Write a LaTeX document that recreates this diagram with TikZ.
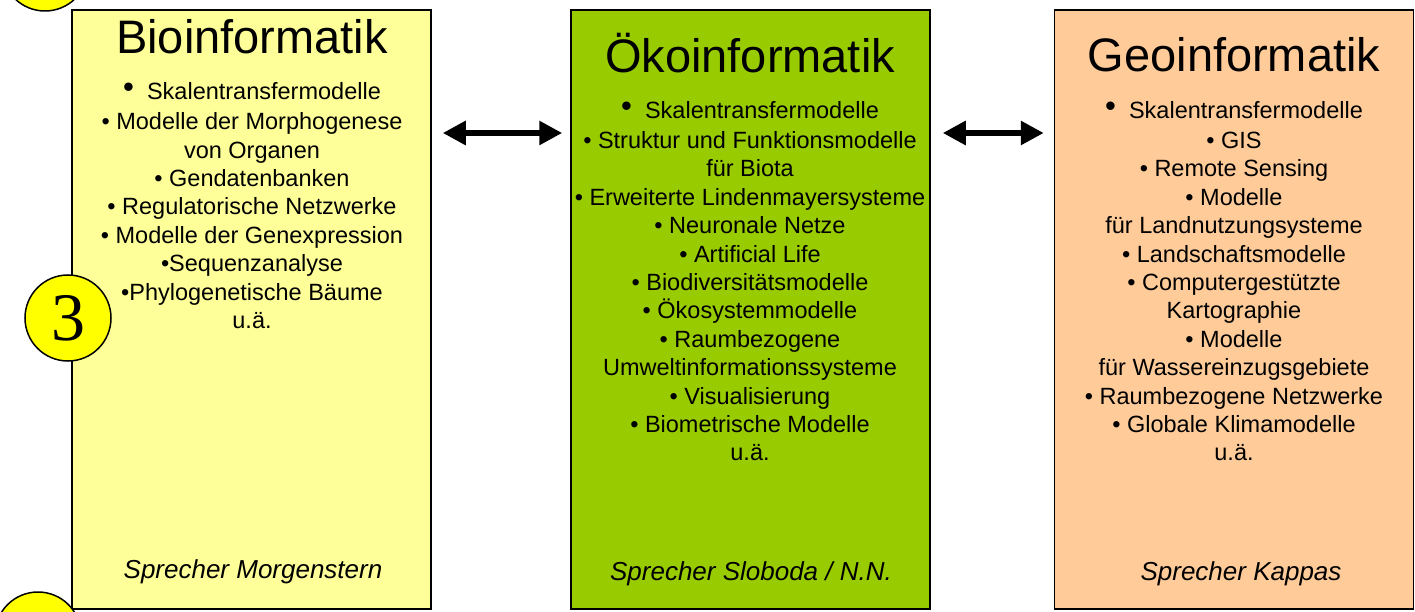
\documentclass[tikz,border=0pt]{standalone}
\usepackage{fontspec}
\setmainfont{Liberation Sans}
\newfontfamily\ziffer{Liberation Serif}
\usetikzlibrary{arrows.meta}
\definecolor{biogelb}{HTML}{FFFF99}
\definecolor{oekogruen}{HTML}{99CC00}
\definecolor{geoorange}{HTML}{FFCC99}
\definecolor{kreisgelb}{HTML}{FFFF00}
\def\bul{•\ }
\def\Bul{\raisebox{1.5pt}{\fontsize{31}{31}\selectfont•}\ \ }

\begin{document}
\begin{tikzpicture}[x=1pt,y=-1pt,
				feld/.style={rectangle,draw,line width=1.5pt,minimum width=359pt,minimum height=599pt},
				titel/.style={anchor=base,font=\fontsize{47}{47}\selectfont},
				liste/.style={anchor=north,align=center,font=\fontsize{23.5}{28.4}\selectfont},
				sprecher/.style={anchor=base,font=\fontsize{26}{26}\selectfont\itshape},
				nummer/.style={circle,draw,fill=kreisgelb,line width=1.5pt,minimum size=86pt,font=\ziffer\fontsize{68}{68}\selectfont},
				link/.style={{Triangle[length=23pt,width=23pt]}-{Triangle[length=23pt,width=23pt]},line width=6.5pt},
				inner sep=0pt]
				\clip (0,0) rectangle (1415,612);
				\fill [white] (0,0) rectangle (1415,612);
				\node [feld,fill=biogelb]		(bio)		at (251.5,309.5)	{};
					\node [titel] (bioTitel) at (252,54) {Bioinformatik};
					\node [liste] (bioListe) at (252,82) {\Bul Skalentransfermodelle\\[2pt]
						\bul Modelle der Morphogenese\\ von Organen\\ \bul Gendatenbanken\\
						\bul Regulatorische Netzwerke\\ \bul Modelle der Genexpression\\
						•Sequenzanalyse\\ •Phylogenetische Bäume\\ u.ä.};
					\node [sprecher] (bioSprecher) at (253,578) {Sprecher Morgenstern};
				\node [feld,fill=oekogruen]		(oeko)		at (750.5,309.5)	{};
					\node [titel] (oekoTitel) at (750,73) {Ökoinformatik};
					\node [liste] (oekoListe) at (750,101) {\Bul Skalentransfermodelle\\[1.8pt]
						\bul Struktur und Funktionsmodelle\\ für Biota\\
						\bul Erweiterte Lindenmayersysteme\\ \bul Neuronale Netze\\
						\bul Artificial Life\\ \bul Biodiversitätsmodelle\\ \bul Ökosystemmodelle\\
						\bul Raumbezogene\\ Umweltinformationssysteme\\ \bul Visualisierung\\
						\bul Biometrische Modelle\\ u.ä.};
					\node [sprecher] (oekoSprecher) at (751,580) {Sprecher Sloboda / N.N.};
				\node [feld,fill=geoorange]		(geo)		at (1234,309.5)	{};
					\node [titel] (geoTitel) at (1234,72) {Geoinformatik};
					\node [liste] (geoListe) at (1234,101) {\Bul Skalentransfermodelle\\[1.8pt]
						\bul GIS\\ \bul Remote Sensing\\ \bul Modelle\\ für Landnutzungsysteme\\
						\bul Landschaftsmodelle\\ \bul Computergestützte\\ Kartographie\\
						\bul Modelle\\ für Wassereinzugsgebiete\\ \bul Raumbezogene Netzwerke\\
						\bul Globale Klimamodelle\\ u.ä.};
					\node [sprecher] (geoSprecher) at (1241,580) {Sprecher Kappas};
				\coordinate (pfeilhoehe) at (0,133);
				\draw [link,shorten <=11pt,shorten >=8pt] (bio.east |- pfeilhoehe) -- (oeko.west |- pfeilhoehe);
				\draw [link,shorten <=12pt,shorten >=10pt] (oeko.east |- pfeilhoehe) -- (geo.west |- pfeilhoehe);
				\node [nummer]		(kreisOben)		at (45,-32)		{};
				\node [nummer]		(kreisDrei)		at (68,318)		{3};
				\node [nummer]		(kreisUnten)		at (38,635)		{};
			\end{tikzpicture}
\end{document}
